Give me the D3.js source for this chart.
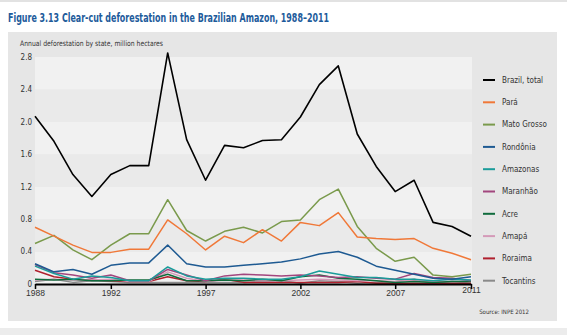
<!DOCTYPE html>
<html>
<head>
<meta charset="utf-8">
<script src="https://cdn.jsdelivr.net/npm/d3@7"></script>
<style>
  body { margin: 0; background: #fff; }
  svg { display: block; font-family: "Liberation Sans Narrow", "DejaVu Sans Condensed", "Roboto", sans-serif; }
</style>
</head>
<body>
<svg></svg>
<script>
const years = d3.range(1988, 2012);
const yearTicks = [1988, 1992, 1997, 2002, 2007, 2011];
const valueTicks = [0, 0.4, 0.8, 1.2, 1.6, 2.0, 2.4, 2.8];

const names = ["Brazil, total", "Pará", "Mato Grosso", "Rondônia", "Amazonas",
  "Maranhão", "Acre", "Amapá", "Roraima", "Tocantins"];
const colors = ["#000000", "#f07838", "#7a9a4c", "#1e5a92", "#1a9c9a",
  "#a2467e", "#0f6b3c", "#d49ab8", "#b0202e", "#8a8a8a"];

// million hectares
const brazil = [2.07, 1.76, 1.35, 1.08, 1.35, 1.46, 1.46, 2.85, 1.78, 1.28, 1.71, 1.68,
  1.77, 1.78, 2.06, 2.46, 2.69, 1.85, 1.45, 1.14, 1.28, 0.76, 0.71, 0.59];
const para = [0.70, 0.59, 0.48, 0.39, 0.39, 0.43, 0.43, 0.79, 0.62, 0.42, 0.59, 0.51,
  0.67, 0.53, 0.76, 0.72, 0.88, 0.58, 0.56, 0.55, 0.56, 0.44, 0.38, 0.30];
const matoGrosso = [0.50, 0.60, 0.42, 0.30, 0.48, 0.62, 0.62, 1.04, 0.66, 0.53, 0.65, 0.70,
  0.63, 0.77, 0.79, 1.04, 1.17, 0.71, 0.44, 0.28, 0.33, 0.11, 0.09, 0.12];
const rondonia = [0.25, 0.15, 0.18, 0.12, 0.23, 0.26, 0.26, 0.48, 0.25, 0.21, 0.21, 0.23,
  0.25, 0.27, 0.31, 0.37, 0.40, 0.33, 0.22, 0.17, 0.12, 0.07, 0.06, 0.09];
const amazonas = [0.22, 0.13, 0.06, 0.10, 0.08, 0.04, 0.04, 0.21, 0.10, 0.06, 0.07, 0.07,
  0.06, 0.06, 0.09, 0.16, 0.12, 0.08, 0.08, 0.06, 0.06, 0.04, 0.06, 0.05];
const maranhao = [0.24, 0.14, 0.11, 0.07, 0.11, 0.04, 0.04, 0.18, 0.11, 0.04, 0.10, 0.12,
  0.11, 0.10, 0.11, 0.10, 0.08, 0.09, 0.07, 0.06, 0.13, 0.08, 0.07, 0.04];
const acre = [0.06, 0.05, 0.06, 0.04, 0.04, 0.05, 0.05, 0.12, 0.04, 0.04, 0.05, 0.04,
  0.06, 0.04, 0.09, 0.11, 0.07, 0.06, 0.04, 0.02, 0.03, 0.02, 0.03, 0.03];
const amapa = [0.05, 0.06, 0.05, 0.05, 0.06, 0.03, 0.03, 0.15, 0.07, 0.03, 0.05, 0.05,
  0.04, 0.04, 0.05, 0.06, 0.05, 0.04, 0.04, 0.03, 0.05, 0.03, 0.03, 0.03];
const roraima = [0.17, 0.09, 0.06, 0.05, 0.04, 0.03, 0.03, 0.09, 0.04, 0.03, 0.06, 0.02,
  0.02, 0.02, 0.02, 0.02, 0.02, 0.03, 0.01, 0.01, 0.01, 0.01, 0.01, 0.01];
const tocantins = [0.03, 0.06, 0.02, 0.04, 0.03, 0.02, 0.02, 0.02, 0.02, 0.02, 0.02, 0.02,
  0.03, 0.04, 0.01, 0.04, 0.03, 0.01, 0.02, 0.03, 0.06, 0.01, 0.03, 0.01];

const series = [brazil, para, matoGrosso, rondonia, amazonas, maranhao, acre, amapa, roraima, tocantins];

const svg = d3.select("svg").attr("width", 567).attr("height", 335);

// page strips and panel
svg.append("rect").attr("x", 0).attr("y", 0).attr("width", 567).attr("height", 2).attr("fill", "#e2e2e2");
svg.append("rect").attr("x", 0).attr("y", 328).attr("width", 567).attr("height", 7).attr("fill", "#ececec");
svg.append("rect").attr("x", 8).attr("y", 32).attr("width", 549).attr("height", 289).attr("fill", "#e6e6e6");

svg.append("text")
  .attr("x", 8).attr("y", 22)
  .attr("font-size", "11.5px").attr("font-weight", "bold")
  .attr("fill", "#1d5b9b")
  .attr("textLength", 321).attr("lengthAdjust", "spacingAndGlyphs")
  .text("Figure 3.13 Clear-cut deforestation in the Brazilian Amazon, 1988\u20132011");

svg.append("text")
  .attr("x", 20).attr("y", 46)
  .attr("font-size", "7.5px").attr("fill", "#333")
  .attr("textLength", 143).attr("lengthAdjust", "spacingAndGlyphs")
  .text("Annual deforestation by state, million hectares");

const x = d3.scaleLinear().domain([1988, 2011]).range([35, 471]);
const y = d3.scaleLinear().domain([0, 2.8]).range([284, 57]);

// alternating bands
const bands = d3.pairs(valueTicks);
svg.append("g").selectAll("rect").data(bands).join("rect")
  .attr("x", x.range()[0])
  .attr("width", 472 - x.range()[0])
  .attr("y", d => y(d[1]))
  .attr("height", d => y(d[0]) - y(d[1]))
  .attr("fill", (d, i) => (bands.length - 1 - i) % 2 === 0 ? "#f1f1f1" : "#eaeaea");

// y labels
svg.append("g").selectAll("text").data(valueTicks).join("text")
  .attr("x", 32).attr("y", d => y(d)).attr("dy", "0.35em")
  .attr("text-anchor", "end")
  .attr("font-size", "8px").attr("fill", "#333")
  .text(d => d === 0 ? "0" : d.toFixed(1));

// lines
const line = d3.line().x((d, i) => x(years[i])).y(d => y(d));
const order = d3.range(series.length).reverse();
svg.append("g").selectAll("path").data(order).join("path")
  .attr("d", i => line(series[i]))
  .attr("fill", "none")
  .attr("stroke", i => colors[i])
  .attr("stroke-width", i => i === 0 ? 1.6 : 1.5)
  .attr("stroke-linejoin", "round");

// x axis
const xAxis = d3.axisBottom(x).tickValues(yearTicks).tickFormat(d3.format("d")).tickSize(5).tickSizeOuter(0);
const gx = svg.append("g").attr("transform", "translate(0,284)").call(xAxis);
gx.select(".domain").attr("stroke", "#000").attr("stroke-width", 2);
gx.selectAll(".tick line").attr("stroke", "#000").attr("stroke-width", 1.5);
gx.selectAll(".tick text")
  .attr("font-family", null)
  .attr("font-size", "8.5px").attr("fill", "#333")
  .attr("y", d => d === 2011 ? 3 : 6);

// legend
const legend = svg.append("g").selectAll("g").data(names).join("g")
  .attr("transform", (d, i) => `translate(483,${80 + i * 22.3})`);
legend.append("line")
  .attr("x1", 0).attr("x2", 12)
  .attr("stroke", (d, i) => colors[i]).attr("stroke-width", 2);
legend.append("text")
  .attr("x", 19).attr("dy", "0.35em")
  .attr("font-size", "8px").attr("fill", "#333")
  .text(d => d);

svg.append("text")
  .attr("x", 529).attr("y", 314)
  .attr("text-anchor", "end")
  .attr("font-size", "6px").attr("fill", "#333")
  .text("Source: INPE 2012");
</script>
</body>
</html>
